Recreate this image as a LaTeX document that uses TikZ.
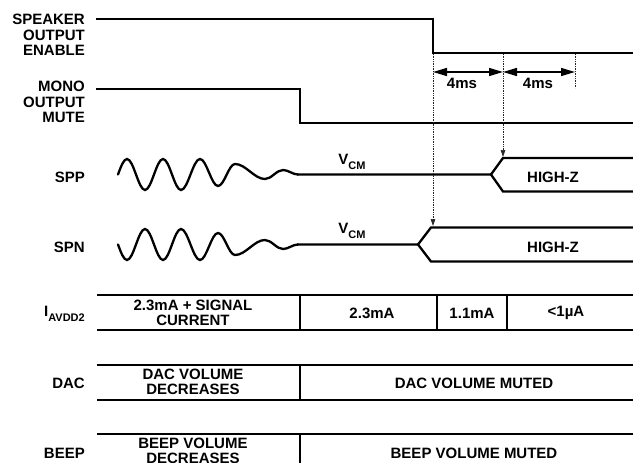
\documentclass[tikz,border=0pt]{standalone}
\usepackage{fontspec}
\setmainfont{Liberation Sans}
\usetikzlibrary{arrows.meta}
\newcommand{\subtxt}[1]{\raisebox{-0.3em}{\fontsize{11}{11}\selectfont #1}}
\begin{document}
\begin{tikzpicture}[x=1pt,y=-1pt,
  sig/.style={line width=2.3pt, line join=miter, line cap=rect},
  tab/.style={line width=2.5pt},
  sep/.style={line width=1.4pt},
  guide/.style={line width=0.7pt, dash pattern=on 1pt off 0.7pt, black!85},
  guidearrow/.style={guide, -{Triangle[length=7pt,width=4.5pt]}},
  dimarrow/.style={line width=1.5pt, {Triangle[length=14pt,width=8pt]}-{Triangle[length=14pt,width=8pt]}},
  lbl/.style={font=\fontsize{15}{15.5}\selectfont\bfseries, align=right, anchor=east, inner sep=0pt},
  txt/.style={font=\fontsize{15}{14.5}\selectfont\bfseries, align=center, inner sep=0pt},
  ]
\useasboundingbox (0,0) rectangle (633,463);

% ---- left labels
\node[lbl] (lspk) at (85,35) {SPEAKER\\OUTPUT\\ENABLE};
\node[lbl] (lmono) at (85,102) {MONO\\OUTPUT\\MUTE};
\node[lbl] (lspp) at (85,177) {SPP};
\node[lbl] (lspn) at (85,247) {SPN};
\node[lbl] (lavdd) at (85,314) {I\subtxt{AVDD2}};
\node[lbl] (ldac) at (85,383) {DAC};
\node[lbl] (lbeep) at (85,453) {BEEP};

% ---- speaker output enable
\coordinate (s0) at (97,19);
\coordinate (s1) at (433,19);
\coordinate (s2) at (433,53);
\coordinate (s3) at (633,53);
\draw[sig] (s0) -- (s1) -- (s2) -- (s3);

% ---- mono output mute
\coordinate (m0) at (97,89);
\coordinate (m1) at (300,89);
\coordinate (m2) at (300,123);
\coordinate (m3) at (633,123);
\draw[sig] (m0) -- (m1) -- (m2) -- (m3);

% ---- SPP wave
\begin{scope}[shift={(0,174.5)}]
\draw[sig, line cap=round] (118,0) sin (127,-15.5) cos (136,0) sin (145,15.5) cos (154,0) sin (163,-15.5)
  cos (172,0) sin (181,15.5) cos (190.5,0) sin (200,-15.5) cos (209,-2) sin (218,11.5)
  cos (226.5,0.5) sin (235,-10.5) cos (250,-3) sin (265,4.5) cos (274,0) sin (283,-4.5)
  cos (290.5,-2.25) sin (298,0) coordinate (ppw);
\end{scope}
% ---- SPN wave
\begin{scope}[shift={(0,244.5)}, yscale=-1]
\draw[sig, line cap=round] (118,0) sin (127,-15.5) cos (136,0) sin (145,15.5) cos (154,0) sin (163,-15.5)
  cos (172,0) sin (181,15.5) cos (190.5,0) sin (200,-15.5) cos (209,-2) sin (218,11.5)
  cos (226.5,0.5) sin (235,-10.5) cos (250,-3) sin (265,4.5) cos (274,0) sin (283,-4.5)
  cos (290.5,-2.25) sin (298,0) coordinate (pnw);
\end{scope}

% SPP flat and high-Z
\coordinate (ppv) at (491,174.5);
\coordinate (ppu) at (503,158);
\coordinate (ppl) at (503,191.5);
\coordinate (ppue) at (633,158);
\coordinate (pple) at (633,191.5);
\draw[sig] (ppw) -- (ppv) -- (ppu) -- (ppue);
\draw[sig] (ppv) -- (ppl) -- (pple);

% SPN flat and high-Z
\coordinate (pnv) at (418,244.5);
\coordinate (pnu) at (431,227.5);
\coordinate (pnl) at (431,261.5);
\coordinate (pnue) at (633,227.5);
\coordinate (pnle) at (633,261.5);
\draw[sig] (pnw) -- (pnv) -- (pnu) -- (pnue);
\draw[sig] (pnv) -- (pnl) -- (pnle);

\node[txt] (vcm1) at (352,162) {V\subtxt{CM}};
\node[txt] (vcm2) at (352,231) {V\subtxt{CM}};
\node[txt] (hz1) at (553,177) {HIGH-Z};
\node[txt] (hz2) at (553,247) {HIGH-Z};

% ---- guides
\coordinate (g1t) at (433,54);
\coordinate (g1b) at (433,226);
\coordinate (g2t) at (503,54);
\coordinate (g2b) at (503,157);
\coordinate (g3t) at (575,54);
\coordinate (g3b) at (575,88);
\draw[guidearrow] (g1t) -- (g1b);
\draw[guidearrow] (g2t) -- (g2b);
\draw[guide] (g3t) -- (g3b);

\coordinate (d1) at (433,72);
\coordinate (d2) at (503,72);
\coordinate (d3) at (575,72);
\draw[dimarrow] (d1) -- (d2);
\draw[dimarrow] (d2) -- (d3);
\node[txt] (t4a) at (462,83) {4ms};
\node[txt] (t4b) at (538,83) {4ms};

% ---- I_AVDD2 row
\draw[tab] (97,295) -- (633,295);
\draw[tab] (97,330) -- (633,330);
\draw[sep] (300,295) -- (300,330);
\draw[sep] (437,295) -- (437,330);
\draw[sep] (507,295) -- (507,330);
\node[txt] (c1) at (193,313) {2.3mA + SIGNAL\\CURRENT};
\node[txt] (c2) at (372,313) {2.3mA};
\node[txt] (c3) at (472,313) {1.1mA};
\node[txt] (c4) at (566,313) {<1µA};

% ---- DAC row
\draw[tab] (97,365) -- (633,365);
\draw[tab] (97,400) -- (633,400);
\draw[sep] (300,365) -- (300,400);
\node[txt] (d1t) at (193,382) {DAC VOLUME\\DECREASES};
\node[txt] (d2t) at (474,383) {DAC VOLUME MUTED};

% ---- BEEP row
\draw[tab] (97,434) -- (633,434);
\draw[tab] (97,469) -- (633,469);
\draw[sep] (300,434) -- (300,469);
\node[txt] (b1t) at (193,451) {BEEP VOLUME\\DECREASES};
\node[txt] (b2t) at (474,453) {BEEP VOLUME MUTED};
\end{tikzpicture}
\end{document}
